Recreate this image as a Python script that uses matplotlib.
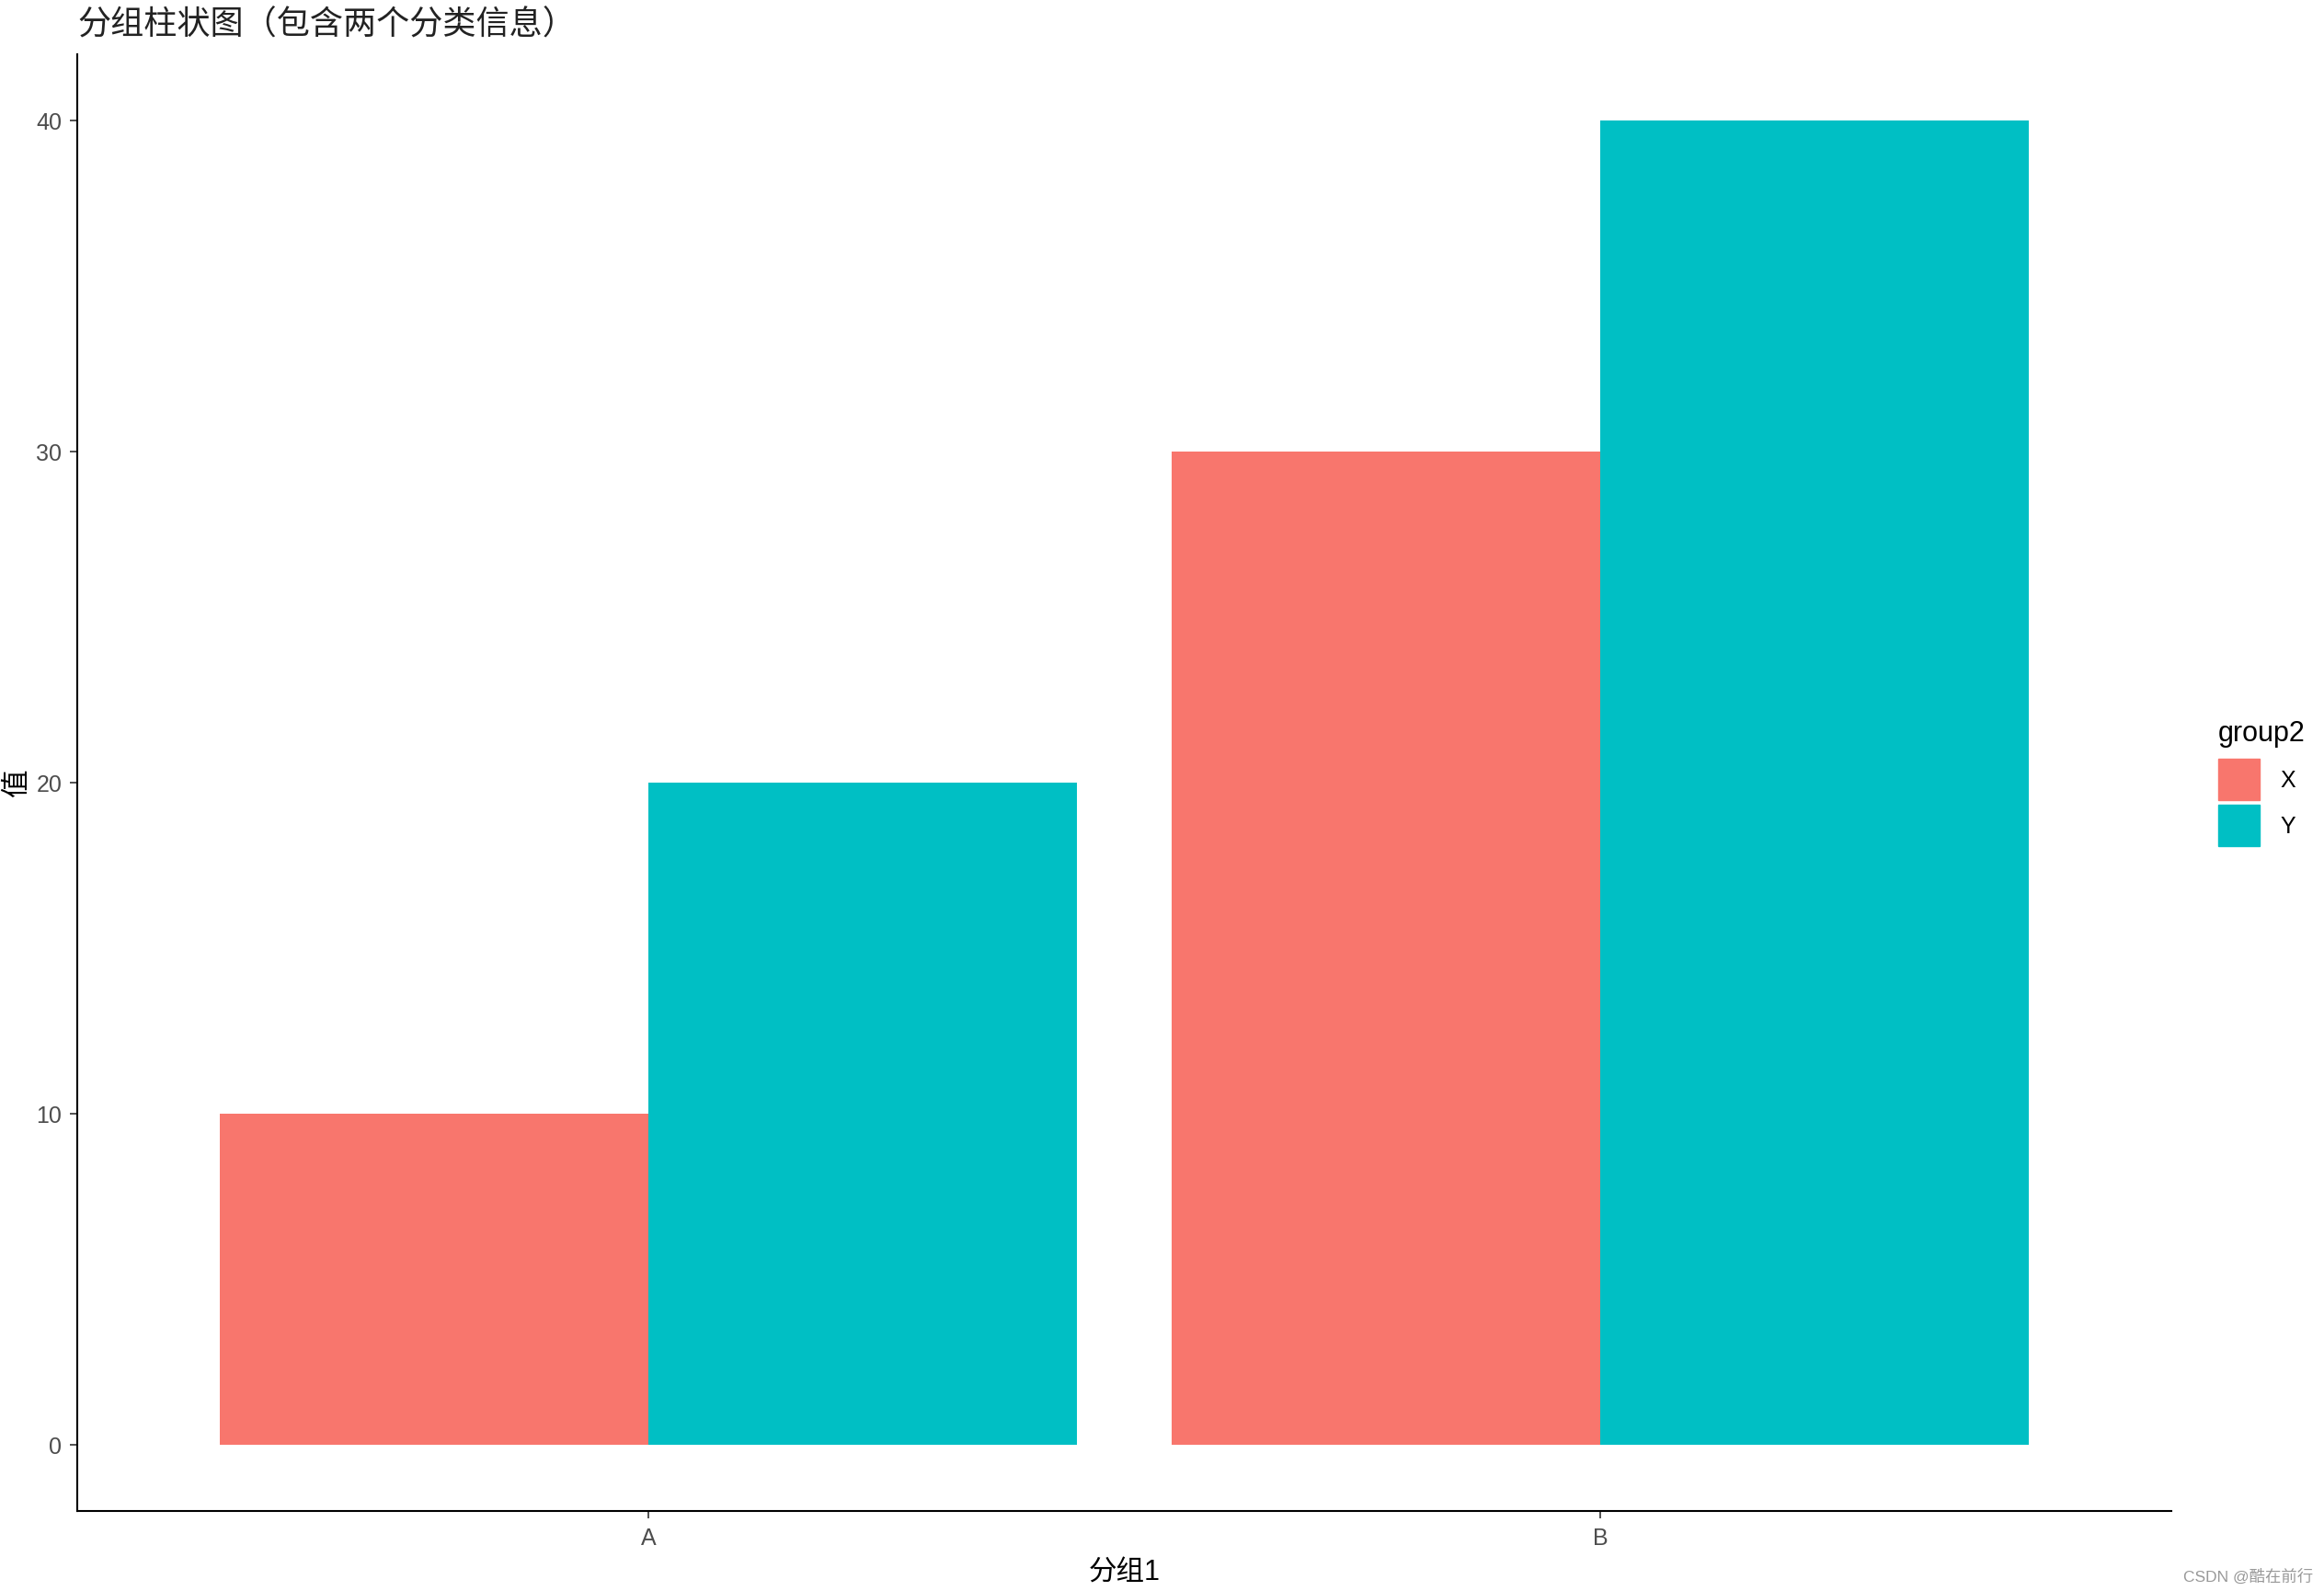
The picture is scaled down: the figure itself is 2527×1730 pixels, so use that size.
import numpy as np
import matplotlib
matplotlib.use('Agg')
import matplotlib.pyplot as plt
from matplotlib.patches import Patch

plt.rcParams['font.family'] = ['Liberation Sans', 'Noto Sans CJK SC', 'DejaVu Sans']

# data
groups1 = ['A', 'B']
groups2 = ['X', 'Y']
vals_x = [10, 30]
vals_y = [20, 40]
colors = ['#F8766D', '#00BFC4']
yticks = [0, 10, 20, 30, 40]

W, H = 2527, 1731
fig = plt.figure(figsize=(W/100, H/100), dpi=100)
ax = fig.add_axes([84/W, 1-1644/H, (2361-84)/W, (1644-60)/H])

pos = np.arange(1, len(groups1)+1)
ax.bar(pos-0.225, vals_x, width=0.45, color=colors[0], label=groups2[0])
ax.bar(pos+0.225, vals_y, width=0.45, color=colors[1], label=groups2[1])

ax.set_xlim(0.4, 2.6)
ax.set_ylim(-2, 42)
ax.set_xticks(pos)
ax.set_xticklabels(groups1)
ax.set_yticks(yticks)
for s in ['top', 'right']:
    ax.spines[s].set_visible(False)
for s in ['left', 'bottom']:
    ax.spines[s].set_linewidth(1.5)
    ax.spines[s].set_color('black')
ax.tick_params(length=6, width=1.2, color='#333333', labelsize=18, labelcolor='#4D4D4D', pad=6)

ax.set_xlabel('分组1', fontsize=22, labelpad=8)
ax.set_ylabel('值', fontsize=22, labelpad=4)
fig.text(84/W, 1-11/H, '分组柱状图（包含两个分类信息）', fontsize=26, ha='left', va='top', color='#222222')

handles = [Patch(color=c) for c in colors]
leg = fig.legend(handles, groups2, title='group2', loc='upper left',
                 bbox_to_anchor=(2412/W, 1-783/H), frameon=False,
                 fontsize=18, title_fontsize=22, handlelength=1.8, handleheight=2.4,
                 labelspacing=0.2, handletextpad=0.9, borderpad=0, borderaxespad=0)
leg._legend_box.align = 'left'
# a bit more room between title and keys, like the ggplot legend
leg._legend_box.sep = 9

fig.text(2515/W, 1-1714/H, 'CSDN @酷在前行', fontsize=12.5, color='#999999', ha='right', va='center')

fig.savefig('out.png', dpi=100)
